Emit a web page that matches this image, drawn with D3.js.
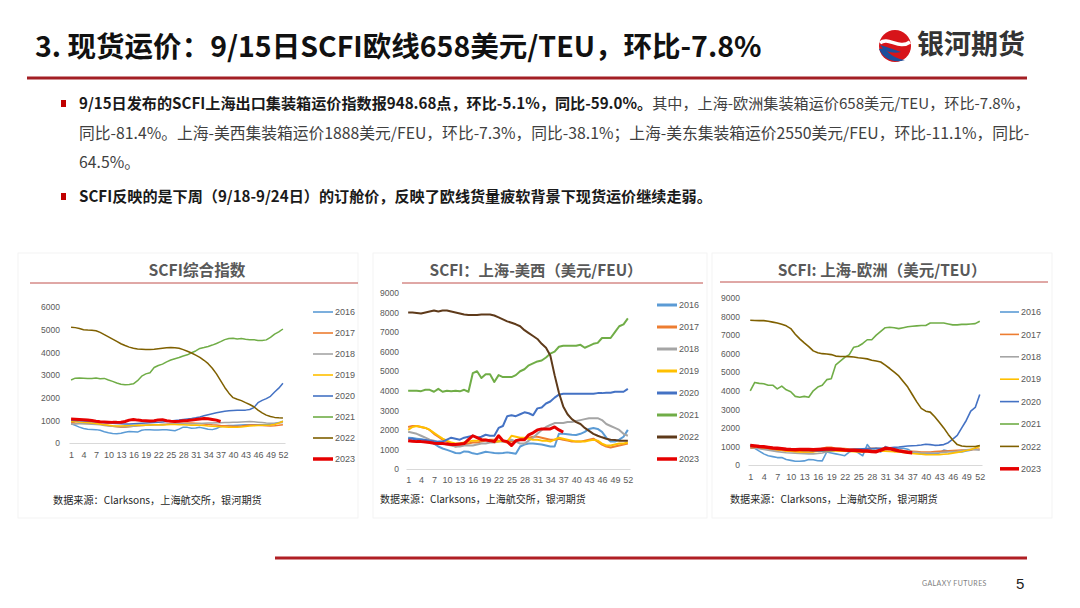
<!DOCTYPE html>
<html>
<head>
<meta charset="utf-8">
<script src="https://cdn.jsdelivr.net/npm/d3@7"></script>
<style>
  body { margin: 0; background: #fff; }
  svg { display: block; font-family: "Noto Sans CJK SC", "Noto Sans", sans-serif; }
</style>
</head>
<body>
<svg width="1080" height="608"></svg>
<script>
// ---- data ----
var years = ["2016", "2017", "2018", "2019", "2020", "2021", "2022", "2023"];
var weeks = d3.range(1, 53);
var weekTicks = [1, 4, 7, 10, 13, 16, 19, 22, 25, 28, 31, 34, 37, 40, 43, 46, 49, 52];
var compTicks = [0, 1000, 2000, 3000, 4000, 5000, 6000];
var routeTicks = [0, 1000, 2000, 3000, 4000, 5000, 6000, 7000, 8000, 9000];

// SCFI composite index
var comp2016 = [850,780,700,640,610,600,590,560,500,450,420,410,430,470,510,500,480,560,590,580,570,570,580,580,560,540,610,700,690,650,660,690,650,610,590,640,720,760,770,770,780,790,800,810,810,800,800,810,830,860,900,960];
var comp2017 = [900,880,870,860,860,870,860,840,800,770,740,720,700,700,720,740,760,770,780,790,800,810,820,830,840,850,860,870,880,880,870,860,840,820,800,790,770,760,750,740,740,750,770,790,790,780,770,760,750,760,780,800];
var comp2018 = [830,840,850,850,840,830,820,800,770,750,740,730,720,720,730,740,760,770,780,790,800,810,820,830,850,870,870,860,850,840,850,860,870,880,880,890,890,900,900,910,920,930,940,950,940,920,900,880,870,870,880,900];
var comp2019 = [960,950,930,910,900,880,860,830,800,780,760,750,750,760,770,780,790,780,780,790,800,800,790,800,820,820,810,800,790,780,790,780,770,750,740,730,720,710,700,700,700,710,730,750,760,770,780,780,790,820,880,960];
var comp2020 = [1000,990,980,970,960,950,940,920,890,880,870,860,850,840,840,850,860,870,880,890,900,910,930,950,970,990,1010,1040,1060,1080,1110,1150,1200,1250,1290,1330,1370,1400,1420,1430,1440,1440,1450,1480,1560,1780,1880,1960,2060,2250,2420,2640];
var comp2021 = [2780,2860,2870,2860,2850,2850,2870,2830,2850,2780,2720,2650,2590,2570,2580,2610,2750,2950,3050,3100,3330,3420,3480,3580,3660,3720,3770,3840,3890,3980,4060,4170,4210,4260,4320,4390,4470,4560,4610,4620,4590,4610,4580,4560,4560,4520,4520,4550,4660,4800,4900,5030];
var comp2022 = [5110,5090,5050,5000,4980,4970,4950,4880,4780,4680,4580,4480,4380,4300,4230,4180,4150,4140,4130,4130,4140,4160,4180,4200,4210,4200,4180,4120,4050,3970,3880,3780,3650,3500,3300,3050,2750,2450,2200,2000,1930,1870,1780,1700,1600,1450,1330,1230,1170,1130,1110,1100];
var comp2023 = [1060,1050,1040,1030,1010,990,960,940,930,920,910,910,920,950,1010,1040,1010,990,980,970,980,1020,1030,980,960,950,960,980,990,1010,1040,1060,1080,1070,1040,1010,950];

// Shanghai - US West (USD/FEU)
var usw2016 = [1600,1580,1550,1520,1480,1420,1300,1150,1050,980,900,820,800,900,880,800,760,820,880,850,820,800,820,850,820,780,1150,1250,1300,1300,1280,1250,1200,1150,1150,1800,1800,1780,1750,1740,1800,1900,2050,2100,2050,1900,1600,1400,1400,1500,1650,2000];
var usw2017 = [2150,2200,2200,2150,2100,2000,1800,1650,1500,1400,1250,1150,1200,1250,1300,1350,1350,1400,1450,1500,1500,1450,1400,1350,1400,1450,1500,1550,1600,1650,1650,1600,1550,1500,1500,1550,1500,1450,1400,1400,1400,1450,1500,1550,1400,1250,1150,1100,1150,1200,1250,1300];
var usw2018 = [1900,1850,1800,1700,1600,1500,1450,1350,1300,1250,1200,1150,1150,1200,1200,1200,1250,1300,1300,1350,1350,1400,1400,1450,1500,1400,1300,1300,1450,1600,1800,2000,2150,2250,2350,2350,2350,2400,2400,2450,2500,2550,2600,2600,2600,2500,2300,2200,2100,2000,1800,1700];
var usw2019 = [2000,2150,2200,2150,2100,2000,1850,1700,1550,1450,1350,1300,1300,1350,1400,1450,1450,1500,1500,1450,1400,1400,1450,1400,1700,1650,1600,1600,1550,1500,1500,1450,1450,1400,1500,1600,1550,1500,1450,1400,1400,1400,1450,1500,1450,1300,1200,1200,1250,1300,1300,1350];
var usw2020 = [1550,1550,1500,1500,1480,1450,1420,1400,1400,1500,1600,1550,1500,1600,1650,1700,1600,1650,1750,1700,1700,2100,2200,2700,2750,2700,2800,2900,2850,2750,3100,3150,3350,3450,3650,3800,3850,3850,3850,3850,3850,3850,3850,3850,3880,3880,3900,3900,3950,3950,3950,4100];
var usw2021 = [4000,4000,4000,3980,4050,4050,3950,4100,3950,4000,3980,4000,3970,4050,3950,4900,5000,4650,4850,4850,4450,4800,4700,4700,4700,4800,5000,5100,5300,5400,5500,5550,5700,5900,6000,6250,6300,6300,6300,6300,6350,6200,6300,6400,6450,6700,6700,6700,7000,7300,7400,7700];
var usw2022 = [8000,8000,7980,7950,8000,8050,8100,8050,8100,8100,8050,8000,7950,7900,7880,7880,7880,7900,7900,7900,7850,7750,7650,7550,7480,7400,7300,7100,6950,6800,6650,6400,6200,5800,4800,3900,3200,2800,2550,2400,2300,2100,1950,1800,1700,1620,1550,1500,1480,1450,1450,1450];
var usw2023 = [1450,1420,1400,1400,1380,1350,1320,1300,1300,1280,1250,1250,1280,1300,1500,1700,1600,1500,1480,1450,1400,1700,1450,1400,1200,1450,1500,1500,1750,1850,2000,2050,2050,2050,2150,2000,1888];

// Shanghai - Europe (USD/TEU)
var eur2016 = [1100,900,750,600,500,450,400,400,300,250,200,200,220,300,280,230,220,700,650,600,550,500,700,800,650,500,1100,800,900,700,1000,900,850,900,900,850,700,650,600,600,600,600,650,800,750,700,700,700,750,800,900,1050];
var eur2017 = [900,920,900,880,850,820,800,780,760,750,740,720,700,700,720,800,900,950,950,900,900,880,860,850,850,870,880,900,900,880,860,850,820,800,780,750,740,720,700,700,700,720,740,750,760,780,790,800,800,820,840,860];
var eur2018 = [950,920,880,840,800,760,720,690,660,650,640,620,610,600,600,620,650,700,740,780,800,800,820,830,850,850,830,820,800,800,820,840,850,800,760,720,700,680,660,650,650,650,660,680,700,720,740,780,820,850,830,800];
var eur2019 = [1000,980,960,930,900,870,830,800,760,740,720,710,700,700,710,730,750,750,760,760,750,740,730,720,700,710,720,740,750,760,750,730,710,700,680,650,620,600,580,560,550,550,560,580,600,640,680,720,780,840,920,1000];
var eur2020 = [1050,1030,1000,960,930,900,870,850,830,820,810,800,790,780,770,760,760,770,780,800,810,820,830,850,860,870,880,890,900,900,910,930,950,970,1000,1020,1040,1050,1080,1120,1100,1060,1070,1100,1200,1400,1600,2000,2400,2900,3100,3800];
var eur2021 = [4000,4450,4400,4380,4300,4300,4100,4250,4050,3950,3700,3650,3700,3650,4000,4200,4300,4600,4650,5400,5600,5800,5950,6350,6400,6550,6750,6750,7000,7200,7400,7420,7400,7350,7400,7450,7480,7500,7520,7520,7650,7650,7650,7650,7600,7550,7550,7580,7580,7600,7620,7750];
var eur2022 = [7800,7790,7780,7780,7750,7700,7650,7580,7500,7350,7050,6800,6580,6380,6150,6050,6000,5980,5950,5870,5850,5850,5840,5820,5780,5750,5720,5650,5600,5550,5380,5200,5000,4800,4500,4200,3800,3400,3050,2900,2850,2600,2300,2000,1650,1350,1100,1020,1000,1000,1000,1050];
var eur2023 = [1050,1030,1000,980,950,920,900,880,850,830,820,830,840,830,820,840,850,860,860,850,830,810,800,790,780,760,750,730,720,800,900,880,820,760,720,680,658];

// ---- styles ----
var palette = ["#5B9BD5", "#ED7D31", "#A5A5A5", "#FFC000", "#4472C4", "#70AD47", "#7F6000", "#E60000"];
var palette2 = ["#5B9BD5", "#ED7D31", "#A5A5A5", "#FFC000", "#4472C4", "#70AD47", "#5E3A1A", "#E60000"];
var grayText = "#595959";

var svg = d3.select("svg");
svg.append("rect").attr("width", 1080).attr("height", 608).attr("fill", "#fff");

function fitText(sel, w) {
  var fs = parseFloat(sel.attr("font-size"));
  var len = sel.node().getComputedTextLength();
  if (len > 0) sel.attr("font-size", fs * w / len);
  return sel;
}

// ---- header ----
var title = svg.append("text")
  .attr("x", 35).attr("y", 57)
  .attr("font-size", 25).attr("font-weight", 700).attr("fill", "#111")
  .text("3. 现货运价：9/15日SCFI欧线658美元/TEU，环比-7.8%");
fitText(title, 727);

// logo
var logo = svg.append("g").attr("transform", "translate(895,46)");
logo.append("circle").attr("r", 16).attr("fill", "#D7141A");
logo.append("path")
  .attr("d", "M-15,-3 C-7,-10 4,4 15,-4")
  .attr("fill", "none").attr("stroke", "#fff").attr("stroke-width", 3.5);
logo.append("path")
  .attr("d", "M-16,3 C-12,12 -2,18 10,14 C2,13 -6,9 -10,2 Z")
  .attr("fill", "#1D4F9C");
logo.append("path")
  .attr("d", "M-15,-1 C-10,6 -2,8 6,6 C-2,3 -8,1 -15,-1 Z")
  .attr("fill", "#1D4F9C");
var brand = svg.append("text")
  .attr("x", 917).attr("y", 54)
  .attr("font-size", 21).attr("font-weight", 700).attr("fill", "#333")
  .text("银河期货");
fitText(brand, 108);

svg.append("line")
  .attr("x1", 27).attr("x2", 1027).attr("y1", 78).attr("y2", 78)
  .attr("stroke", "#A31F24").attr("stroke-width", 3);

// ---- bullets ----
svg.append("rect").attr("x", 61).attr("y", 100).attr("width", 5).attr("height", 7).attr("fill", "#C00000");
svg.append("rect").attr("x", 61).attr("y", 193).attr("width", 5).attr("height", 7).attr("fill", "#C00000");

var l1 = svg.append("text").attr("x", 79).attr("y", 109).attr("font-size", 14).attr("fill", "#404040");
l1.append("tspan").attr("font-weight", 700).attr("fill", "#1a1a1a")
  .text("9/15日发布的SCFI上海出口集装箱运价指数报948.68点，环比-5.1%，同比-59.0%。");
l1.append("tspan").text("其中，上海-欧洲集装箱运价658美元/TEU，环比-7.8%，");
fitText(l1, 952);

var l2 = svg.append("text").attr("x", 79).attr("y", 139).attr("font-size", 14).attr("fill", "#404040")
  .text("同比-81.4%。上海-美西集装箱运价1888美元/FEU，环比-7.3%，同比-38.1%；上海-美东集装箱运价2550美元/FEU，环比-11.1%，同比-");
fitText(l2, 951);

svg.append("text").attr("x", 79).attr("y", 168).attr("font-size", l2.attr("font-size")).attr("fill", "#404040")
  .text("64.5%。");

var l4 = svg.append("text").attr("x", 79).attr("y", 202).attr("font-size", 14)
  .attr("font-weight", 700).attr("fill", "#1a1a1a")
  .text("SCFI反映的是下周（9/18-9/24日）的订舱价，反映了欧线货量疲软背景下现货运价继续走弱。");
fitText(l4, 633);

// ---- charts ----
function drawChart(c) {
  var g = svg.append("g");

  g.append("rect")
    .attr("x", c.box[0]).attr("y", c.box[1]).attr("width", c.box[2]).attr("height", c.box[3])
    .attr("fill", "none").attr("stroke", "#f1f1f1").attr("stroke-width", 0.8);

  var t = g.append("text")
    .attr("x", c.titleX).attr("y", 276).attr("text-anchor", "middle")
    .attr("font-size", 15).attr("font-weight", 700).attr("fill", grayText)
    .text(c.title);
  fitText(t, c.titleW);

  g.append("line")
    .attr("x1", c.rule[0]).attr("x2", c.rule[1]).attr("y1", c.rule[2]).attr("y2", c.rule[2])
    .attr("stroke", "#C0504D").attr("stroke-width", 1);

  var x = d3.scalePoint().domain(weeks).range(c.xRange).padding(0.5);
  var y = d3.scaleLinear().domain([0, c.yMax]).range(c.yRange);

  // category axis
  var xAxis = g.append("g")
    .attr("transform", "translate(0," + c.yRange[0] + ")")
    .call(d3.axisBottom(x).tickValues(weekTicks).tickSize(0).tickPadding(c.xPad));
  xAxis.select(".domain").attr("stroke", "#d9d9d9");
  xAxis.selectAll("text").attr("font-family", "Liberation Sans, Arial, sans-serif")
    .attr("font-size", 9).attr("fill", grayText);

  // value axis
  var yAxis = g.append("g")
    .attr("transform", "translate(" + (c.yLabelX + 4) + ",0)")
    .call(d3.axisLeft(y).tickValues(c.yTicks).tickSize(0).tickPadding(4).tickFormat(d3.format("d")));
  yAxis.select(".domain").remove();
  yAxis.selectAll("text").attr("font-family", "Liberation Sans, Arial, sans-serif")
    .attr("font-size", 8.5).attr("fill", grayText);

  var line = d3.line()
    .x(function (d, i) { return x(weeks[i]); })
    .y(function (d) { return y(d); });

  g.selectAll("path.series")
    .data(c.series)
    .enter()
    .append("path")
    .attr("class", "series")
    .attr("d", function (d) { return line(d); })
    .attr("fill", "none")
    .attr("stroke", function (d, i) { return c.colors[i]; })
    .attr("stroke-width", function (d, i) { return i === 7 ? c.w23 : c.w; })
    .attr("stroke-linejoin", "round");

  // legend
  var lg = g.selectAll("g.leg")
    .data(years)
    .enter()
    .append("g")
    .attr("class", "leg")
    .attr("transform", function (d, i) { return "translate(0," + (c.legY + i * c.legStep) + ")"; });
  lg.append("line")
    .attr("x1", c.legX[0]).attr("x2", c.legX[1])
    .attr("stroke", function (d, i) { return c.colors[i]; })
    .attr("stroke-width", function (d, i) { return i === 7 ? c.legW23 : c.legW; });
  lg.append("text")
    .attr("x", c.legX[1] + 2).attr("dy", "0.35em")
    .attr("font-family", "Liberation Sans, Arial, sans-serif")
    .attr("font-size", 9).attr("fill", grayText)
    .text(function (d) { return d; });

  var src = g.append("text")
    .attr("x", c.src[0]).attr("y", c.src[1])
    .attr("font-size", 9.5).attr("fill", "#262626")
    .text("数据来源：Clarksons，上海航交所，银河期货");
  fitText(src, c.srcW);
}

drawChart({
  box: [18, 253, 340, 265],
  title: "SCFI综合指数", titleX: 197, titleW: 97,
  rule: [30, 358, 283],
  xRange: [69, 285], yRange: [443, 307], yMax: 6000, yTicks: compTicks,
  yLabelX: 60, xPad: 9,
  series: [comp2016, comp2017, comp2018, comp2019, comp2020, comp2021, comp2022, comp2023],
  colors: palette, w: 1.5, w23: 3,
  legX: [313, 333], legY: 312, legStep: 21, legW: 1.6, legW23: 3.5,
  src: [53, 504], srcW: 209
});

drawChart({
  box: [373, 253, 334, 265],
  title: "SCFI：上海-美西（美元/FEU）", titleX: 536, titleW: 213,
  rule: [402, 703, 283],
  xRange: [406, 630], yRange: [469, 293], yMax: 9000, yTicks: routeTicks,
  yLabelX: 399, xPad: 8,
  series: [usw2016, usw2017, usw2018, usw2019, usw2020, usw2021, usw2022, usw2023],
  colors: palette2, w: 2, w23: 3,
  legX: [657, 677], legY: 305, legStep: 22, legW: 3, legW23: 3.5,
  src: [380, 503], srcW: 206
});

drawChart({
  box: [712, 253, 340, 265],
  title: "SCFI: 上海-欧洲（美元/TEU）", titleX: 882, titleW: 209,
  rule: [720, 1048, 282],
  xRange: [748, 982], yRange: [465, 298], yMax: 9000, yTicks: routeTicks,
  yLabelX: 740, xPad: 9,
  series: [eur2016, eur2017, eur2018, eur2019, eur2020, eur2021, eur2022, eur2023],
  colors: palette, w: 1.6, w23: 3.5,
  legX: [1000, 1019], legY: 312, legStep: 22.4, legW: 1.6, legW23: 3.5,
  src: [730, 503], srcW: 208
});

// ---- footer ----
svg.append("line")
  .attr("x1", 275).attr("x2", 1027).attr("y1", 558).attr("y2", 558)
  .attr("stroke", "#B01F24").attr("stroke-width", 3);
svg.append("text")
  .attr("x", 922).attr("y", 586)
  .attr("font-family", "Lato, sans-serif").attr("font-size", 7).attr("fill", "#808080")
  .attr("letter-spacing", 0.4)
  .text("GALAXY FUTURES");
svg.append("text")
  .attr("x", 1016).attr("y", 589)
  .attr("font-family", "Liberation Sans, Arial, sans-serif").attr("font-size", 15).attr("fill", "#222")
  .text("5");
</script>
</body>
</html>
